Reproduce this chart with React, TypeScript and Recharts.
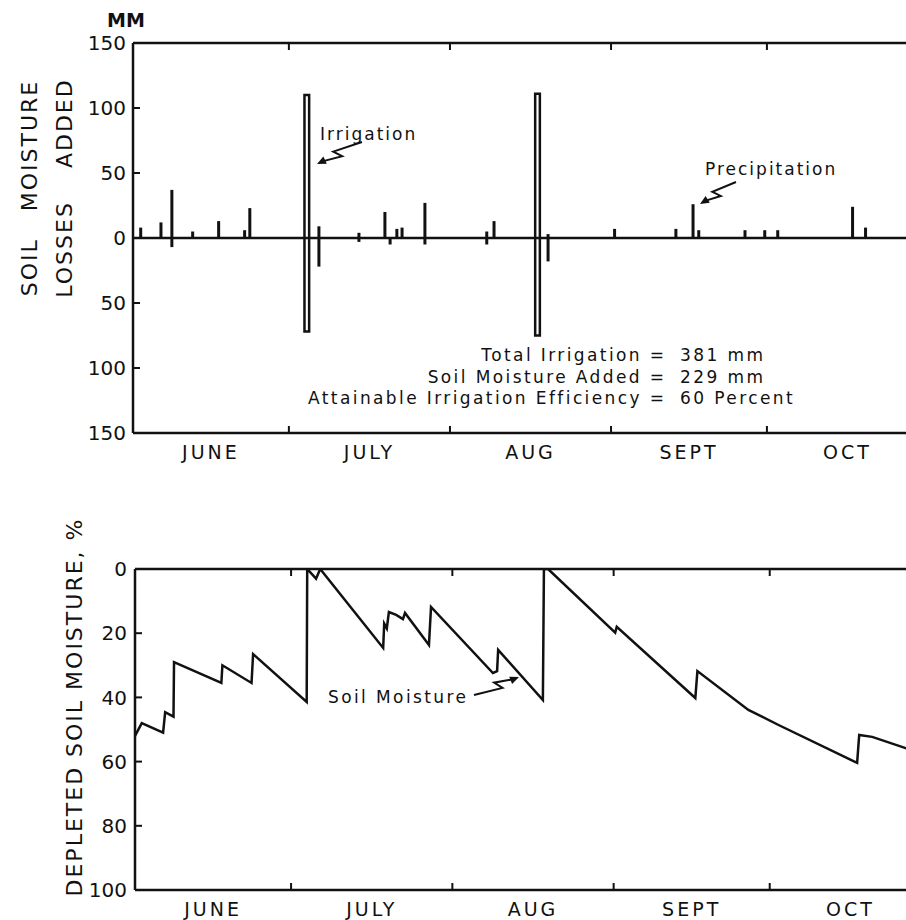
import React from 'react';
import { ComposedChart, LineChart, Line, Bar, XAxis, YAxis, ReferenceLine } from 'recharts';

// x = days after June 1
const MONTHS = ['JUNE', 'JULY', 'AUG', 'SEPT', 'OCT'];
const MONTH_STARTS = [0, 30, 61, 92, 122, 153];
const MONTH_MIDS = MONTHS.map((_, i) => (MONTH_STARTS[i] + MONTH_STARTS[i + 1]) / 2);

// top panel, mm
const RAIN_DAYS = [1.5, 5.4, 7.5, 11.5, 16.5, 21.5, 22.5, 35.8, 43.5, 48.5, 50.8, 51.8, 56.2, 68.1, 69.5, 79.9, 92.7, 104.5, 107.8, 108.9, 117.8, 121.6, 124.1, 138.5, 141];
const RAIN_MM = [8, 12, 37, 5, 13, 6, 23, 9, 4, 20, 7, 8, 27, 5, 13, 3, 7, 7, 26, 6, 6, 6, 6, 24, 8];
const LOSS_DAYS = [7.5, 35.8, 43.5, 49.5, 56.2, 68.1, 79.9];
const LOSS_MM = [7, 22, 3, 5, 5, 5, 18];
const IRRIG_DAYS = [33.5, 77.9];
const IRRIG_ADDED = [110, 111];
const IRRIG_LOST = [72, 75];
const MM_TICKS = [-150, -100, -50, 0, 50, 100, 150];

// bottom panel, depleted soil moisture %
const MOIST_DAYS = [0, 1.3, 5.4, 5.8, 7.4, 7.5, 16.6, 16.8, 22.4, 22.7, 33.0, 33.1, 34.8, 35.6, 47.7, 47.9, 48.4, 48.8, 50.2, 51.5, 51.9, 56.5, 56.9, 68.8, 69.6, 69.8, 78.4, 78.6, 79.4, 92.3, 92.6, 107.7, 108.1, 117.9, 123.7, 138.8, 139.2, 141.7, 148.5];
const MOIST_PCT = [52, 48, 51, 44.6, 46, 29, 35.5, 30, 35.5, 26.5, 41.4, 0, 3, 0, 24.6, 17, 18.5, 13.4, 14.3, 15.6, 13.7, 23.7, 11.8, 32.4, 31.8, 25.2, 40.8, 0, 0, 19.8, 18, 40.2, 31.8, 43.9, 48.6, 60.4, 51.7, 52.3, 56];
const PCT_TICKS = [0, 20, 40, 60, 80, 100];

const barDays = Array.from(new Set([...RAIN_DAYS, ...LOSS_DAYS])).sort((a, b) => a - b);
const topData = [
  ...barDays.map((day) => ({
    day,
    rain: [-(LOSS_MM[LOSS_DAYS.indexOf(day)] ?? 0), RAIN_MM[RAIN_DAYS.indexOf(day)] ?? 0],
  })),
  ...IRRIG_DAYS.map((day, i) => ({ day, irrigation: [-IRRIG_LOST[i], IRRIG_ADDED[i]] })),
];
const moistData = MOIST_DAYS.map((day, i) => ({ day, pct: MOIST_PCT[i] }));

const INK = '#111';
const axisLine = { stroke: INK, strokeWidth: 2.5 };
const tickLine = { stroke: INK, strokeWidth: 2 };
const blank = () => '';
const monthName = (v: number) => MONTHS[MONTH_MIDS.indexOf(v)] ?? '';

// frame: mirrored axes give the border with inward ticks, plain axes carry the labels
function xFrame() {
  return [
    <XAxis key="top" xAxisId="top" orientation="top" mirror dataKey="day" type="number" domain={[0, 153]}
      ticks={MONTH_STARTS} tickSize={7} tickFormatter={blank}
      axisLine={axisLine} tickLine={tickLine} allowDataOverflow />,
    <XAxis key="edge" xAxisId="edge" orientation="bottom" mirror dataKey="day" type="number" domain={[0, 153]}
      ticks={MONTH_STARTS} tickSize={7} tickFormatter={blank}
      axisLine={axisLine} tickLine={tickLine} allowDataOverflow />,
    <XAxis key="month" xAxisId="month" dataKey="day" type="number" domain={[0, 153]}
      ticks={MONTH_MIDS} height={40} tickSize={0} tickMargin={13} axisLine={false} tickLine={false}
      tickFormatter={monthName} tick={{ fill: INK, fontSize: 19, letterSpacing: 3 }} allowDataOverflow />,
  ];
}

function ZigArrow({ from, to }: { from: [number, number]; to: [number, number] }) {
  const [x1, y1] = from;
  const [x2, y2] = to;
  const dx = x2 - x1;
  const dy = y2 - y1;
  const len = Math.hypot(dx, dy);
  const ux = dx / len;
  const uy = dy / len;
  const nx = -uy;
  const ny = ux;
  const a = [x1 + dx * 0.6 + nx * 4, y1 + dy * 0.6 + ny * 4];
  const b = [x1 + dx * 0.48 - nx * 4, y1 + dy * 0.48 - ny * 4];
  const h = 9;
  const head = `M${x2},${y2} L${x2 - ux * h + nx * 4},${y2 - uy * h + ny * 4} L${x2 - ux * h - nx * 4},${y2 - uy * h - ny * 4} Z`;
  return (
    <g>
      <path d={`M${x1},${y1} L${a[0]},${a[1]} L${b[0]},${b[1]} L${x2 - ux * 6},${y2 - uy * 6}`} fill="none" stroke={INK} strokeWidth={2} />
      <path d={head} fill={INK} />
    </g>
  );
}

const noteStyle = { fontSize: 17, letterSpacing: 2.4, fill: INK };

export default function App() {
  return (
    <div style={{ position: 'absolute', left: 0, top: 0, width: 906, height: 920, overflow: 'hidden', background: '#fff', fontFamily: "'DejaVu Sans', sans-serif" }}>
      <div style={{ position: 'absolute', left: 0, top: 0 }}>
        <ComposedChart width={940} height={480} data={topData} margin={{ top: 43, right: 12, bottom: 7, left: 73 }}>
          {xFrame()}
          <YAxis yAxisId="lbl" type="number" domain={[-150, 150]} ticks={MM_TICKS} width={60} tickSize={0} tickMargin={7}
            tickFormatter={(v: number) => String(Math.abs(v))} axisLine={false} tickLine={false}
            tick={{ fill: INK, fontSize: 20 }} allowDataOverflow />
          <YAxis yAxisId="mm" mirror type="number" domain={[-150, 150]} ticks={MM_TICKS} tickSize={7}
            tickFormatter={blank} axisLine={axisLine} tickLine={tickLine} allowDataOverflow />
          <Bar xAxisId="edge" yAxisId="mm" dataKey="rain" barSize={3} fill={INK} isAnimationActive={false} />
          <Bar xAxisId="month" yAxisId="lbl" dataKey="irrigation" barSize={10} fill="#fff" stroke={INK} strokeWidth={2.5} isAnimationActive={false} />
          <ReferenceLine xAxisId="edge" yAxisId="mm" y={0} stroke={INK} strokeWidth={2.5} />
        </ComposedChart>
      </div>

      <div style={{ position: 'absolute', left: 0, top: 520 }}>
        <LineChart width={943} height={420} data={moistData} margin={{ top: 49, right: 12, bottom: 10, left: 75 }}>
          {xFrame()}
          <YAxis yAxisId="lbl" type="number" domain={[0, 100]} reversed ticks={PCT_TICKS} width={60} tickSize={0} tickMargin={8}
            tickFormatter={(v: number) => String(v)} axisLine={false} tickLine={false}
            tick={{ fill: INK, fontSize: 20 }} allowDataOverflow />
          <YAxis yAxisId="pct" mirror type="number" domain={[0, 100]} reversed ticks={PCT_TICKS} tickSize={7}
            tickFormatter={blank} axisLine={axisLine} tickLine={tickLine} allowDataOverflow />
          <Line xAxisId="edge" yAxisId="pct" dataKey="pct" type="linear" stroke={INK} strokeWidth={2.5} dot={false} isAnimationActive={false} />
        </LineChart>
      </div>

      <svg width={906} height={920} style={{ position: 'absolute', left: 0, top: 0, pointerEvents: 'none' }}>
        <text x={126} y={27} textAnchor="middle" fontSize={19} fontWeight={600} fill={INK}>MM</text>
        <text transform="translate(29,188) rotate(-90)" textAnchor="middle" dominantBaseline="central"
          fontSize={22} letterSpacing={2} wordSpacing={18} fill={INK}>SOIL MOISTURE</text>
        <text transform="translate(64,188) rotate(-90)" textAnchor="middle" dominantBaseline="central"
          fontSize={22} letterSpacing={2} wordSpacing={24} fill={INK}>LOSSES ADDED</text>
        <text transform="translate(74,707) rotate(-90)" textAnchor="middle" dominantBaseline="central"
          fontSize={22} letterSpacing={2} fill={INK}>DEPLETED SOIL MOISTURE, %</text>

        <text x={320} y={140} {...noteStyle} letterSpacing={2}>Irrigation</text>
        <ZigArrow from={[362, 142]} to={[317, 164]} />
        <text x={705} y={175} {...noteStyle} letterSpacing={2}>Precipitation</text>
        <ZigArrow from={[736, 182]} to={[700, 204]} />

        <text x={642} y={361} textAnchor="end" {...noteStyle}>Total Irrigation</text>
        <text x={642} y={383} textAnchor="end" {...noteStyle}>Soil Moisture Added</text>
        <text x={642} y={404} textAnchor="end" {...noteStyle}>Attainable Irrigation Efficiency</text>
        <text x={658} y={361} textAnchor="middle" {...noteStyle}>=</text>
        <text x={658} y={383} textAnchor="middle" {...noteStyle}>=</text>
        <text x={658} y={404} textAnchor="middle" {...noteStyle}>=</text>
        <text x={680} y={361} {...noteStyle}>381 mm</text>
        <text x={680} y={383} {...noteStyle}>229 mm</text>
        <text x={680} y={404} {...noteStyle}>60 Percent</text>

        <text x={328} y={703} {...noteStyle}>Soil Moisture</text>
        <ZigArrow from={[474, 695]} to={[519, 677]} />
      </svg>
    </div>
  );
}
